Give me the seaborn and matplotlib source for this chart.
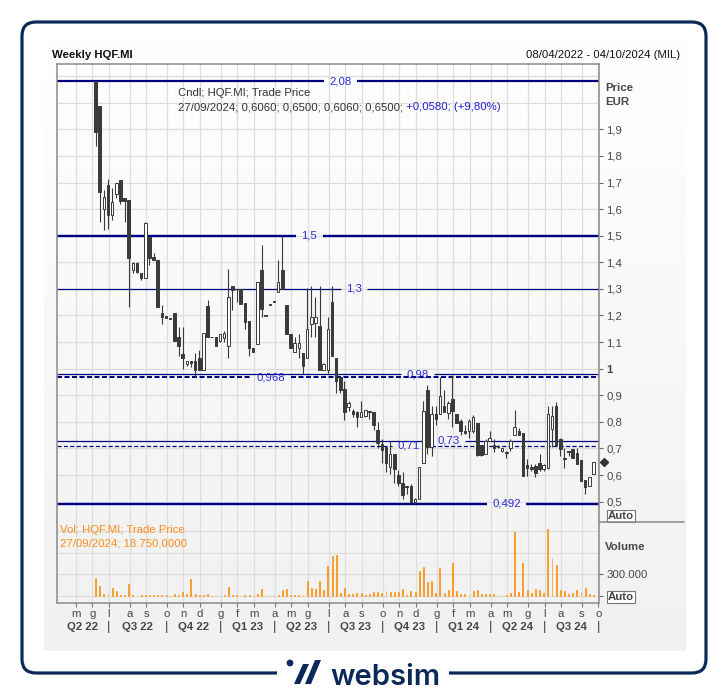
import numpy as np
import pandas as pd
import matplotlib
matplotlib.use("Agg")
import matplotlib.pyplot as plt
import matplotlib.transforms as mtransforms
from matplotlib.patches import FancyBboxPatch, Rectangle, Polygon, Circle
from matplotlib.colors import LinearSegmentedColormap
import seaborn as sns

# ==========================================================
# DATA (weekly candles HQF.MI)
# ==========================================================
first_week = "2022-06-10"
range_start = "2022-04-08"
range_end = "2024-10-04"

opens = [2.08, 1.989, 1.602, 1.692, 1.577, 1.658, 1.710, 1.643, 1.633, 1.371,
         1.396, 1.360, 1.340, 1.495, 1.420, 1.410, 1.209, 1.198, 1.192, 1.209,
         1.119, 1.056, 1.018, 1.030, 1.030, 1.040, 0.996, 1.236, 1.120, 1.119,
         1.106, 1.115, 1.084, 1.310, 1.300, 1.300, 1.248, 1.181, 1.078, 1.093,
         1.371, 1.199, 1.241, 1.253, 1.290, 1.371, 1.240, 1.130, 1.061, 1.077,
         1.059, 1.040, 1.167, 1.170, 1.161, 0.996, 0.996, 1.252, 1.040, 0.970,
         0.924, 0.855, 0.840, 0.836, 0.820, 0.821, 0.840, 0.836, 0.768, 0.718,
         0.707, 0.632, 0.678, 0.600, 0.572, 0.560, 0.560, 0.500, 0.510, 0.644,
         0.921, 0.707, 0.830, 0.828, 0.859, 0.834, 0.886, 0.831, 0.803, 0.766,
         0.765, 0.765, 0.796, 0.712, 0.678, 0.728, 0.712, 0.706, 0.690, 0.686,
         0.703, 0.749, 0.764, 0.757, 0.637, 0.631, 0.634, 0.647, 0.622, 0.628,
         0.772, 0.861, 0.737, 0.665, 0.690, 0.697, 0.682, 0.657, 0.582, 0.560,
         0.606]
highs = [2.08, 1.989, 1.670, 1.714, 1.680, 1.700, 1.710, 1.643, 1.633, 1.400,
         1.400, 1.360, 1.550, 1.495, 1.435, 1.410, 1.240, 1.198, 1.192, 1.209,
         1.158, 1.158, 1.030, 1.030, 1.060, 1.070, 1.134, 1.260, 1.120, 1.119,
         1.130, 1.140, 1.375, 1.310, 1.300, 1.300, 1.248, 1.181, 1.078, 1.325,
         1.464, 1.199, 1.241, 1.253, 1.410, 1.500, 1.240, 1.130, 1.120, 1.130,
         1.059, 1.305, 1.310, 1.270, 1.311, 1.020, 1.196, 1.311, 1.040, 0.970,
         0.952, 0.880, 0.850, 0.840, 0.880, 0.846, 0.840, 0.836, 0.800, 0.734,
         0.707, 0.730, 0.678, 0.620, 0.610, 0.560, 0.565, 0.515, 0.632, 0.880,
         0.940, 0.860, 0.860, 0.970, 0.920, 0.880, 0.978, 0.831, 0.810, 0.790,
         0.810, 0.826, 0.796, 0.712, 0.735, 0.764, 0.735, 0.715, 0.703, 0.690,
         0.735, 0.846, 0.776, 0.757, 0.660, 0.640, 0.640, 0.681, 0.640, 0.859,
         0.859, 0.874, 0.740, 0.700, 0.692, 0.697, 0.700, 0.657, 0.582, 0.594,
         0.650]
lows = [1.839, 1.552, 1.520, 1.527, 1.560, 1.640, 1.620, 1.552, 1.233, 1.360,
        1.360, 1.335, 1.340, 1.390, 1.410, 1.233, 1.167, 1.190, 1.188, 1.106,
        1.046, 1.000, 1.010, 1.005, 0.968, 0.996, 0.996, 1.119, 1.118, 1.084,
        1.100, 1.100, 1.040, 1.220, 1.250, 1.245, 1.149, 1.046, 1.061, 1.093,
        1.196, 1.197, 1.239, 1.251, 1.290, 1.299, 1.130, 1.077, 1.061, 1.040,
        0.980, 1.040, 1.120, 1.120, 0.996, 0.996, 0.985, 1.046, 0.910, 0.910,
        0.806, 0.840, 0.820, 0.780, 0.820, 0.820, 0.810, 0.770, 0.700, 0.647,
        0.612, 0.606, 0.569, 0.560, 0.509, 0.530, 0.500, 0.492, 0.510, 0.644,
        0.680, 0.670, 0.790, 0.828, 0.836, 0.810, 0.780, 0.796, 0.750, 0.754,
        0.738, 0.760, 0.670, 0.670, 0.678, 0.728, 0.685, 0.700, 0.685, 0.665,
        0.690, 0.749, 0.749, 0.597, 0.597, 0.617, 0.594, 0.617, 0.617, 0.624,
        0.707, 0.712, 0.670, 0.626, 0.670, 0.665, 0.640, 0.578, 0.528, 0.560,
        0.606]
closes = [1.889, 1.664, 1.645, 1.577, 1.627, 1.699, 1.629, 1.629, 1.415, 1.396,
          1.364, 1.340, 1.549, 1.417, 1.410, 1.233, 1.196, 1.190, 1.188, 1.106,
          1.087, 1.042, 1.030, 1.020, 0.996, 0.996, 1.134, 1.119, 1.118, 1.084,
          1.130, 1.136, 1.271, 1.296, 1.298, 1.245, 1.177, 1.078, 1.061, 1.325,
          1.225, 1.197, 1.239, 1.251, 1.327, 1.299, 1.130, 1.077, 1.098, 1.098,
          1.009, 1.149, 1.196, 1.196, 0.996, 1.019, 1.149, 1.046, 0.955, 0.920,
          0.836, 0.871, 0.830, 0.819, 0.836, 0.846, 0.838, 0.790, 0.722, 0.694,
          0.644, 0.680, 0.622, 0.569, 0.524, 0.555, 0.500, 0.510, 0.632, 0.840,
          0.707, 0.828, 0.810, 0.896, 0.836, 0.871, 0.840, 0.796, 0.765, 0.758,
          0.803, 0.819, 0.674, 0.674, 0.728, 0.738, 0.703, 0.705, 0.703, 0.684,
          0.728, 0.781, 0.749, 0.597, 0.628, 0.622, 0.609, 0.622, 0.637, 0.828,
          0.824, 0.712, 0.699, 0.659, 0.686, 0.665, 0.640, 0.578, 0.557, 0.594,
          0.650]
volumes = [253000, 138000, 28000, 28000, 115000, 69000, 8000, 14000, 166000, 14000,
           6000, 14000, 14000, 14000, 14000, 14000, 14000, 14000, 6000, 28000,
           14000, 51000, 23000, 235000, 28000, 14000, 14000, 28000, 6000, 6000,
           6000, 14000, 129000, 14000, 14000, 6000, 14000, 14000, 6000, 28000,
           97000, 6000, 6000, 6000, 14000, 83000, 97000, 14000, 14000, 14000,
           14000, 207000, 106000, 97000, 207000, 83000, 415000, 557000, 567000, 37000,
           106000, 28000, 28000, 37000, 37000, 8000, 28000, 60000, 51000, 37000,
           69000, 51000, 51000, 51000, 97000, 14000, 69000, 51000, 346000, 406000,
           189000, 207000, 37000, 392000, 37000, 83000, 452000, 69000, 23000, 23000,
           14000, 69000, 83000, 23000, 23000, 23000, 23000, 6000, 6000, 14000,
           37000, 880000, 51000, 452000, 83000, 37000, 97000, 83000, 37000, 926000,
           530000, 429000, 83000, 69000, 23000, 37000, 83000, 51000, 106000, 28000,
           18750]

# reference lines
level_vals = [2.08, 1.5, 1.3, 0.98, 0.968, 0.73, 0.71, 0.492]
level_labels = ["2,08", "1,5", "1,3", "0,98", "0,968", "0,73", "0,71", "0,492"]

month_initials = ["g", "f", "m", "a", "m", "g", "l", "a", "s", "o", "n", "d"]
price_ticks = [0.5, 0.6, 0.7, 0.8, 0.9, 1.0, 1.1, 1.2, 1.3, 1.4, 1.5, 1.6, 1.7, 1.8, 1.9]
vol_ticks = [0, 300000, 600000, 900000]

# ==========================================================
# STYLE
# ==========================================================
sns.set_style("white")
plt.rcParams["font.family"] = ["Liberation Sans", "DejaVu Sans"]
plt.rcParams["lines.scale_dashes"] = False

W, H = 728, 695
NAVY = "#0b2a5a"
LINE = "#000080"
LBL = "#2b2bd6"
DARK = "#3a3a3a"
TXT = "#474747"
GRID = "#dddddd"
SPINE = "#8a8a8a"
ORANGE = "#ff8c00"
FS = 8.2

fig = plt.figure(figsize=(W / 100, H / 100), dpi=100)
fig.patch.set_facecolor("white")


def px_axes(x0, y0, x1, y1, **kw):
    return fig.add_axes([x0 / W, 1 - y1 / H, (x1 - x0) / W, (y1 - y0) / H], **kw)


# background (pixel coordinates)
bg = fig.add_axes([0, 0, 1, 1], zorder=0)
grad = LinearSegmentedColormap.from_list("g", ["#ffffff", "#f1f1f1"])
bg.imshow(np.linspace(0, 1, 256)[:, None], extent=(44, 686, 651, 37), cmap=grad,
          aspect="auto", zorder=0)
bg.set_xlim(0, W)
bg.set_ylim(H, 0)
bg.axis("off")

bg.add_patch(FancyBboxPatch((22, 22), 684, 651, boxstyle="round,pad=0,rounding_size=14",
                            fill=False, ec=NAVY, lw=2.3, zorder=2))
bg.add_patch(Rectangle((277, 666), 172, 14, fc="white", ec="none", zorder=3))
bg.add_patch(Circle((290, 663), 3.4, fc=NAVY, ec="none", zorder=4))
bg.add_patch(Polygon([(294, 684), (300, 684), (309, 664), (303, 664)], fc=NAVY, ec="none", zorder=4))
bg.add_patch(Polygon([(305, 684), (311, 684), (321, 660), (315, 660)], fc=NAVY, ec="none", zorder=4))
bg.text(330, 685, "websim", fontsize=21, color=NAVY, family=["Inter", "DejaVu Sans"],
        fontweight="semibold", ha="left", va="baseline", zorder=4)

# header
bg.text(52, 54.5, "Weekly HQF.MI", fontsize=FS, fontweight="bold", color="#111111", va="center")
bg.text(680, 54.5, "08/04/2022 - 04/10/2024 (MIL)", fontsize=FS, color="#111111",
        va="center", ha="right")

# ==========================================================
# AXES
# ==========================================================
ax = px_axes(56.5, 64, 599.3, 521.7, zorder=1)
axv = px_axes(56.5, 521.7, 599.3, 602.7, zorder=1, sharex=ax)
for a in (ax, axv):
    a.set_facecolor("none")
    for s in a.spines.values():
        s.set_color(SPINE)
        s.set_linewidth(1.1)
ax.spines["bottom"].set_visible(False)
axv.spines["top"].set_visible(False)

week0 = pd.Timestamp(first_week)
week_idx = np.arange(len(opens))
x_left = (pd.Timestamp(range_start) - week0).days / 7 - 0.4
x_right = (pd.Timestamp(range_end) - week0).days / 7 + 0.4
px_per_unit = (599.3 - 56.5) / (x_right - x_left)

# month positions = first weekly slot of each month
months = pd.date_range("2022-05-01", "2024-10-01", freq="MS")
month_pos, month_lbl = [], []
for d in months:
    fri = d + pd.Timedelta(days=(4 - d.weekday()) % 7)
    month_pos.append((fri - week0).days / 7 + 0.2)
    month_lbl.append(month_initials[d.month - 1])
quarter_seps = [p for p, d in zip(month_pos, months) if d.month in (1, 4, 7, 10)]

# grid
ax.vlines(month_pos, 0.3, 2.3, color=GRID, lw=0.9, zorder=0.5)
ax.hlines(np.arange(0.5, 2.15, 0.1), x_left, x_right, color=GRID, lw=0.9, zorder=0.5)
axv.vlines(month_pos, -200000, 1.2e6, color=GRID, lw=0.9, zorder=0.5)
axv.hlines(vol_ticks, x_left, x_right, color=GRID, lw=0.9, zorder=0.5)

# reference levels, broken around their labels
label_pos = [59.0, 51.5, 62.3, 77.6, 42.3, 85.0, 75.5, 99.0]
styles = {
    "2,08": dict(lw=1.6, ls="-"), "1,5": dict(lw=1.7, ls="-"), "1,3": dict(lw=0.9, ls="-"),
    "0,98": dict(lw=0.9, ls="-"), "0,968": dict(lw=1.5, ls=(0, (3.6, 1.8))),
    "0,73": dict(lw=0.9, ls="-"), "0,71": dict(lw=0.9, ls=(0, (3.0, 1.6))),
    "0,492": dict(lw=1.7, ls="-"),
}
for val, lab, lx in zip(level_vals, level_labels, label_pos):
    hg = (6.2 * len(lab) + 8) / 2 / px_per_unit
    st = styles[lab]
    ax.hlines(val, x_left, lx - hg, color=LINE, zorder=2, **st)
    ax.hlines(val, lx + hg, x_right, color=LINE, zorder=2, **st)
    ax.text(lx, val, lab, color=LBL, fontsize=FS, ha="center", va="center", zorder=2.5)

# candles
o = np.array(opens)
c = np.array(closes)
up = c >= o
body_lo = np.minimum(o, c)
body_h = np.maximum(np.abs(c - o), 0.003)
ax.vlines(week_idx, lows, highs, color=DARK, lw=0.8, zorder=4)
ax.bar(week_idx[up], body_h[up], bottom=body_lo[up], width=0.62, color="white",
       edgecolor=DARK, linewidth=0.7, zorder=5)
ax.bar(week_idx[~up], body_h[~up], bottom=body_lo[~up], width=0.62, color=DARK,
       edgecolor=DARK, linewidth=0.7, zorder=5)

# last close marker on the price scale
ax.plot([1.0095], [closes[-1]], marker="D", ms=4.5, color="#333333", clip_on=False,
        transform=mtransforms.blended_transform_factory(ax.transAxes, ax.transData))

# volume bars
sns.barplot(x=week_idx, y=volumes, native_scale=True, width=0.22, color=ORANGE,
            saturation=1, errorbar=None, ax=axv, zorder=3)
for p in axv.patches:
    p.set_facecolor(ORANGE)
    p.set_edgecolor(ORANGE)
    p.set_linewidth(0.45)
    p.set_alpha(1)

ax.set_xlim(x_left, x_right)
ax.set_ylim(0.4248, 2.1455)
axv.set_ylim(-92600, 1027000)

# y axes on the right
ax.yaxis.tick_right()
ax.set_yticks(price_ticks)
ax.set_yticklabels(["1" if abs(v - 1) < 1e-9 else f"{v:.1f}".replace(".", ",") for v in price_ticks])
for t in ax.get_yticklabels():
    if t.get_text() == "1":
        t.set_fontweight("bold")
ax.tick_params(axis="y", right=True, length=3, width=0.8, color="#666666", pad=2,
               labelsize=FS, labelcolor=TXT)
ax.tick_params(axis="x", bottom=False, labelbottom=False)

axv.yaxis.tick_right()
axv.set_yticks([0, 300000])
axv.set_yticklabels(["", "300.000"])
axv.tick_params(axis="y", right=True, length=3, width=0.8, color="#666666", pad=2,
                labelsize=FS, labelcolor=TXT)
axv.set_xticks(month_pos)
axv.set_xticklabels(month_lbl)
axv.tick_params(axis="x", bottom=True, length=3, width=0.8, color="#777777", pad=1.5,
                labelsize=FS, labelcolor=TXT)
axv.set_xlabel("")
axv.set_ylabel("")
axv.set_xlim(x_left, x_right)

# quarter labels below the month initials
qtr = mtransforms.blended_transform_factory(axv.transData, bg.transData)
bounds = [x_left] + quarter_seps
q_names = ["Q2 22", "Q3 22", "Q4 22", "Q1 23", "Q2 23", "Q3 23", "Q4 23", "Q1 24", "Q2 24", "Q3 24"]
for i, name in enumerate(q_names):
    axv.text((bounds[i] + bounds[i + 1]) / 2, 627, name, transform=qtr, ha="center",
             va="center", fontsize=FS, fontweight="bold", color=TXT, clip_on=False)
for s in quarter_seps:
    axv.text(s, 627, "|", transform=qtr, ha="center", va="center", fontsize=9.5,
             color=TXT, clip_on=False)

# right-hand captions
bg.text(605, 88, "Price", fontsize=FS, fontweight="bold", color=TXT, va="center")
bg.text(605, 102, "EUR", fontsize=FS, fontweight="bold", color=TXT, va="center")
bg.text(605, 547, "Volume", fontsize=FS, fontweight="bold", color=TXT, va="center")
box = dict(boxstyle="square,pad=0.12", fc="white", ec="#777777", lw=0.8)
bg.text(608, 516, "Auto", fontsize=FS, fontweight="bold", color=TXT, va="center", bbox=box)
bg.text(608, 597, "Auto", fontsize=FS, fontweight="bold", color=TXT, va="center", bbox=box)
bg.plot([599.3, 684], [521.7, 521.7], color=SPINE, lw=1.1, zorder=5)

# legends inside the panels
t1 = ax.text(178, 93.5, "Cndl; HQF.MI; Trade Price", transform=bg.transData, fontsize=FS,
             color="#333333", va="center", zorder=6, clip_on=False)
t2 = ax.text(178, 107.5, "27/09/2024; 0,6060; 0,6500; 0,6060; 0,6500;", transform=bg.transData,
             fontsize=FS, color="#333333", va="center", zorder=6, clip_on=False)
ax.annotate(" +0,0580; (+9,80%)", xy=(1, 0.5), xycoords=t2, va="center", ha="left",
            fontsize=FS, color="#1f1fd6", zorder=6, annotation_clip=False)
axv.text(60, 530, "Vol; HQF.MI; Trade Price", transform=bg.transData, fontsize=FS,
         color="#ff8c1a", va="center", zorder=6, clip_on=False)
axv.text(60, 544, "27/09/2024; 18.750,0000", transform=bg.transData, fontsize=FS,
         color="#ff8c1a", va="center", zorder=6, clip_on=False)

plt.savefig("out.png", dpi=100)
